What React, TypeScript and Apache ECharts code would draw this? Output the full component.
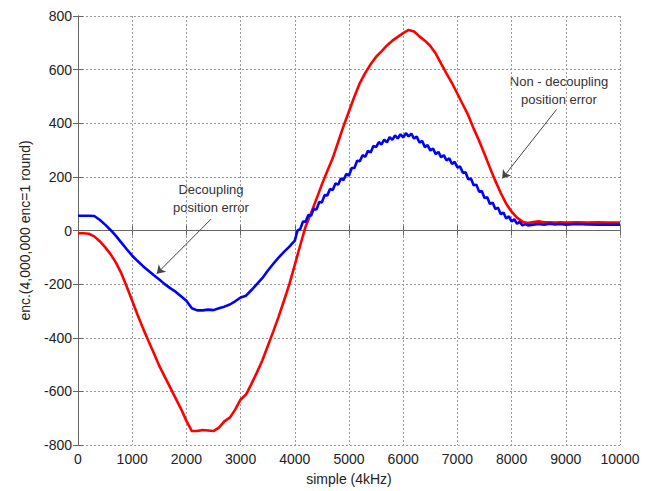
import React, { useEffect, useRef } from "react";
import * as echarts from "echarts";

// [sample, value] pairs
const RED_POINTS: [number, number][] = [
  [0, -10], [100, -10], [200, -12], [300, -22], [400, -40], [500, -62], [600, -88], [700, -120],
  [800, -160], [900, -210], [1000, -262], [1100, -315], [1200, -365], [1300, -412], [1400, -458],
  [1500, -505], [1600, -545], [1700, -585], [1800, -625], [1900, -665], [2000, -710], [2100, -748],
  [2200, -748], [2300, -744], [2400, -746], [2500, -748], [2600, -735], [2700, -712], [2800, -698],
  [2900, -668], [3000, -630], [3100, -612], [3200, -572], [3300, -530], [3400, -485], [3500, -432],
  [3600, -378], [3700, -322], [3800, -262], [3900, -200], [4000, -128], [4100, -55], [4200, 15],
  [4300, 65], [4400, 118], [4500, 172], [4600, 222], [4700, 270], [4800, 330], [4900, 390],
  [5000, 445], [5100, 500], [5200, 550], [5300, 588], [5400, 620], [5500, 648], [5600, 668],
  [5700, 690], [5800, 708], [5900, 722], [6000, 736], [6100, 748], [6200, 742], [6300, 724],
  [6400, 708], [6500, 688], [6600, 660], [6700, 622], [6800, 585], [6900, 550], [7000, 510],
  [7100, 470], [7200, 430], [7300, 380], [7400, 335], [7500, 285], [7600, 234], [7700, 185],
  [7800, 140], [7900, 100], [8000, 70], [8100, 48], [8200, 33], [8300, 28], [8400, 32], [8500, 34],
  [8600, 31], [8700, 31], [8800, 30], [8900, 31], [9000, 30], [9200, 31], [9400, 30], [9600, 31],
  [9800, 30], [10000, 30],
];

const BLUE_POINTS: [number, number][] = [
  [0, 55], [100, 55], [200, 55], [300, 54], [400, 40], [500, 22], [600, 2], [700, -20], [800, -45],
  [900, -70], [1000, -94], [1100, -114], [1200, -133], [1300, -150], [1400, -167], [1500, -183],
  [1600, -200], [1700, -215], [1800, -228], [1900, -245], [2000, -262], [2100, -290], [2200, -298],
  [2300, -298], [2400, -295], [2500, -297], [2600, -290], [2700, -284], [2800, -276], [2900, -264],
  [3000, -250], [3100, -243], [3200, -222], [3300, -200], [3400, -178], [3500, -150], [3600, -125],
  [3700, -101], [3800, -80], [3900, -60], [4000, -38], [4050, 0], [4100, 5], [4150, 33], [4200, 33],
  [4250, 58], [4300, 55], [4350, 81], [4400, 78], [4450, 106], [4500, 105], [4550, 132], [4600, 131],
  [4650, 155], [4700, 151], [4750, 175], [4800, 171], [4850, 194], [4900, 188], [4950, 211],
  [5000, 205], [5050, 233], [5100, 233], [5150, 260], [5200, 258], [5250, 281], [5300, 275],
  [5350, 297], [5400, 291], [5450, 315], [5500, 311], [5550, 330], [5600, 321], [5650, 339],
  [5700, 329], [5750, 348], [5800, 338], [5850, 355], [5900, 343], [5950, 359], [6000, 347],
  [6050, 363], [6100, 351], [6150, 361], [6200, 343], [6250, 350], [6300, 328], [6350, 334],
  [6400, 311], [6450, 319], [6500, 298], [6550, 306], [6600, 285], [6650, 293], [6700, 273],
  [6750, 281], [6800, 261], [6850, 269], [6900, 248], [6950, 256], [7000, 235], [7050, 239],
  [7100, 215], [7150, 217], [7200, 191], [7250, 194], [7300, 169], [7350, 171], [7400, 145],
  [7450, 147], [7500, 121], [7550, 124], [7600, 99], [7650, 104], [7700, 80], [7750, 85],
  [7800, 61], [7850, 67], [7900, 45], [7950, 53], [8000, 33], [8050, 42], [8100, 25], [8150, 32],
  [8200, 19], [8250, 24], [8300, 19], [8400, 22], [8500, 24], [8600, 22], [8700, 25], [8800, 23],
  [8900, 24], [9000, 22], [9200, 24], [9400, 23], [9600, 22], [9800, 23], [10000, 22],
];

const X_TICKS = { min: 0, max: 10000, interval: 1000 };
const Y_TICKS = { min: -800, max: 800, interval: 200 };

const DECOUPLING_ARROW: [number, number][] = [[2458, 43], [1454, -161]];
const NON_DECOUPLING_ARROW: [number, number][] = [[8828, 451], [7827, 194]];

const FONT = "Liberation Sans, Arial, sans-serif";

export default function App() {
  const ref = useRef<HTMLDivElement>(null);
  useEffect(() => {
    document.body.style.margin = "0";
    const chart = echarts.init(ref.current!, null, { renderer: "svg" });
    const axisLine = { show: true, lineStyle: { color: "#666", width: 1 } };
    const tick = { show: true, inside: true, length: 5, lineStyle: { color: "#666" } };
    const split = { show: true, lineStyle: { color: "#999", type: [2, 2], width: 1 } };
    const labelStyle = { color: "#222", fontSize: 14, fontFamily: FONT };
    chart.setOption({
      animation: false,
      backgroundColor: "#fff",
      grid: { left: 78, right: 36, top: 16, bottom: 44 },
      xAxis: [
        {
          type: "value", ...X_TICKS, position: "bottom",
          axisLine, axisTick: tick, splitLine: split,
          axisLabel: { ...labelStyle, margin: 7, formatter: (v: number) => String(v) },
          name: "simple (4kHz)", nameLocation: "middle", nameGap: 27,
          nameTextStyle: { color: "#222", fontSize: 14, fontFamily: FONT },
        },
        {
          type: "value", ...X_TICKS, position: "top",
          axisLine, axisTick: tick, splitLine: { show: false }, axisLabel: { show: false },
        },
      ],
      yAxis: [
        {
          type: "value", ...Y_TICKS, position: "left",
          axisLine, axisTick: tick, splitLine: split,
          axisLabel: { ...labelStyle, margin: 6, formatter: (v: number) => String(v) },
          name: "enc.(4,000,000 enc=1 round)", nameLocation: "middle", nameGap: 46,
          nameTextStyle: { color: "#222", fontSize: 14, fontFamily: FONT },
        },
        {
          type: "value", ...Y_TICKS, position: "right",
          axisLine, axisTick: tick, splitLine: { show: false }, axisLabel: { show: false },
        },
      ],
      series: [
        {
          type: "line", data: RED_POINTS, showSymbol: false, symbol: "none",
          lineStyle: { color: "#ff0000", width: 2.6 }, itemStyle: { color: "#ff0000" },
          markLine: {
            silent: true, symbol: ["none", "arrow"], symbolSize: 8,
            lineStyle: { color: "#444", width: 1, type: "solid" }, label: { show: false },
            data: [
              [{ coord: DECOUPLING_ARROW[0] }, { coord: DECOUPLING_ARROW[1] }],
              [{ coord: NON_DECOUPLING_ARROW[0] }, { coord: NON_DECOUPLING_ARROW[1] }],
            ],
          },
        },
        {
          type: "line", data: BLUE_POINTS, showSymbol: false, symbol: "none",
          lineStyle: { color: "#0000ff", width: 2.6 }, itemStyle: { color: "#0000ff" },
        },
      ],
      graphic: [
        {
          type: "text", x: 211, y: 198,
          style: {
            text: "Decoupling\nposition error", fill: "#333", fontSize: 13, fontFamily: FONT,
            align: "center", verticalAlign: "middle", lineHeight: 18,
          },
        },
        {
          type: "text", x: 559, y: 90,
          style: {
            text: "Non - decoupling\nposition error", fill: "#333", fontSize: 13, fontFamily: FONT,
            align: "center", verticalAlign: "middle", lineHeight: 18,
          },
        },
      ],
    });
    return () => chart.dispose();
  }, []);
  return <div ref={ref} style={{ width: 656, height: 491 }} />;
}
